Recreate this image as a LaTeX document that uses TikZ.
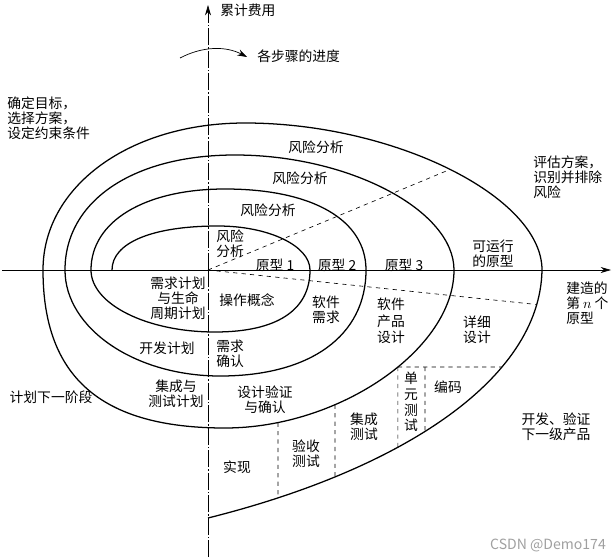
\documentclass[tikz,border=0pt]{standalone}
\usepackage{fontspec}
\setmainfont{Noto Sans CJK SC}
\usepackage{xcolor}
\usepackage{tikz}
\usetikzlibrary{arrows.meta, intersections}
\definecolor{markgray}{HTML}{A0A0A0}

\begin{document}
\begin{tikzpicture}[x=0.025cm, y=-0.025cm,
  lbl/.style={font=\fontsize{9.8}{10.7}\selectfont, align=center, inner sep=0pt},
  loopline/.style={line width=0.9pt},
  axisline/.style={line width=0.5pt},
  sep/.style={dashed, line width=0.45pt},
]
  \useasboundingbox (0,0) rectangle (616,559);

  % axes
  \coordinate (O) at (208,270);
  \coordinate (xstart) at (2,270);
  \coordinate (xend) at (611,270);
  \coordinate (ystart) at (208,557);
  \coordinate (yend) at (208,5);
  \draw[axisline, -{Stealth[length=2.6mm, width=1.5mm]}] (xstart) -- (xend);
  \draw[axisline, dash pattern={on 12pt off 1.5pt on 1pt off 1.5pt}] (ystart) -- (O);
  \draw[axisline, dash pattern={on 12pt off 1.5pt on 1pt off 1.5pt}, -{Stealth[length=2.6mm, width=1.5mm]}] (O) -- (yend);

  % the spiral, quarter by quarter
  \draw[loopline] (112,270)
    .. controls (112,242.7) and (152.3,226) .. (218,226)
    .. controls (268.6,226) and (310,245.8) .. (310,270)
    .. controls (310,310.3) and (276.8,332) .. (215,332)
    .. controls (146.8,332) and (91,304.1) .. (91,270)
    .. controls (91,221.4) and (144.6,189) .. (225,189)
    .. controls (312.4,189) and (366,219.8) .. (366,270)
    .. controls (366,335.7) and (310.5,376) .. (220,376)
    .. controls (134.8,376) and (65,328.3) .. (65,270)
    .. controls (65,201) and (133,155) .. (235,155)
    .. controls (348.9,155) and (454,210.2) .. (454,270)
    .. controls (454,349) and (339.5,428) .. (225,428)
    .. controls (101.2,428) and (43,377.4) .. (43,270)
    .. controls (43,186.2) and (129.9,123) .. (245,123)
    .. controls (393.5,123) and (542,196.5) .. (542,270)
    .. controls (540,380) and (400,470) .. (208,518);

  % named copies of the quarters that the dashed lines meet
  \path[name path=turnthree] (454,270) .. controls (454,349) and (339.5,428) .. (225,428);
  \path[name path=toprisk] (245,123) .. controls (393.5,123) and (542,196.5) .. (542,270);
  \path[name path=lastturn] (542,270) .. controls (540,380) and (400,470) .. (208,518);

  \path[name path=riskray] (O) -- (480,157);
  \path[name path=buildray] (O) -- (570,308);
  \path[name path=codeline] (300,367) -- (560,367);
  \path[name path=accline] (278,300) -- (278,559);
  \path[name path=intline] (335,300) -- (335,559);
  \path[name path=unitline] (425,367) -- (425,559);

  \path[name intersections={of=toprisk and riskray, by=riskend}];
  \path[name intersections={of=lastturn and buildray, by=buildend}];
  \path[name intersections={of=turnthree and codeline, by=codeleft}];
  \path[name intersections={of=lastturn and codeline, by=coderight}];
  \path[name intersections={of=turnthree and accline, by=acctop}];
  \path[name intersections={of=lastturn and accline, by=accbot}];
  \path[name intersections={of=turnthree and intline, by=inttop}];
  \path[name intersections={of=lastturn and intline, by=intbot}];
  \path[name intersections={of=lastturn and unitline, by=unitbot}];
  \path[name path=unitleft] (codeleft) -- ++(0,200);
  \path[name intersections={of=lastturn and unitleft, by=unitleftbot}];

  % dashed dividers
  \draw[sep] (O) -- (riskend);
  \draw[sep] (O) -- (buildend);
  \draw[sep] (codeleft) -- (coderight);
  \draw[sep] (codeleft) -- (unitleftbot);
  \draw[sep] (425,367) -- (unitbot);
  \draw[sep] (inttop) -- (intbot);
  \draw[sep] (acctop) -- (accbot);

  % progress arrow
  \coordinate (progA) at (180,58);
  \coordinate (progB) at (247,57);
  \draw[axisline, -{Stealth[length=2.4mm, width=1.6mm]}] (progA) .. controls (203,46) and (226,46) .. (progB);

  % texts
  \node[lbl, anchor=west] (cost) at (220,10) {累计费用};
  \node[lbl, anchor=west] (prog) at (257,56) {各步骤的进度};
  \node[lbl, anchor=west, align=left] (goal) at (7,118) {确定目标，\\选择方案，\\设定约束条件};
  \node[lbl, anchor=west, align=left] (eval) at (533,177) {评估方案，\\识别并排除\\风险};
  \node[lbl] (runproto) at (493,254) {可运行\\的原型};
  \node[lbl] (proto1) at (275,265) {原型 1};
  \node[lbl] (proto2) at (337,265) {原型 2};
  \node[lbl] (proto3) at (404,265) {原型 3};
  \node[lbl, anchor=west, align=left] (risk0) at (216,244) {风险\\分析};
  \node[lbl] (risk1) at (268,210) {风险分析};
  \node[lbl] (risk2) at (300,178) {风险分析};
  \node[lbl] (risk3) at (316,147) {风险分析};
  \node[lbl] (reqplan) at (178,298) {需求计划\\与生命\\周期计划};
  \node[lbl] (opconcept) at (247,300) {操作概念};
  \node[lbl] (devplan) at (167,348) {开发计划};
  \node[lbl, anchor=west, align=left] (reqcheck) at (216,354) {需求\\确认};
  \node[lbl] (itplan) at (176,394) {集成与\\测试计划};
  \node[lbl] (designcheck) at (265,400) {设计验证\\与确认};
  \node[lbl] (nextplan) at (51,397) {计划下一阶段};
  \node[lbl] (impl) at (237,467) {实现};
  \node[lbl] (acctest) at (306,454) {验收\\测试};
  \node[lbl] (inttest) at (364,427) {集成\\测试};
  \node[lbl, font=\fontsize{9.8}{11.1}\selectfont] (unittest) at (411,402) {单\\元\\测\\试};
  \node[lbl] (coding) at (448,387) {编码};
  \node[lbl] (detail) at (477,330) {详细\\设计};
  \node[lbl, font=\fontsize{9.8}{11.7}\selectfont] (proddesign) at (391,321) {软件\\产品\\设计};
  \node[lbl] (swreq) at (326,310) {软件\\需求};
  \node[lbl, anchor=west, align=left] (nthproto) at (566,303) {建造的\\第 $n$ 个\\原型};
  \node[lbl] (devnext) at (556,427) {开发、验证\\下一级产品};
  \node[lbl, text=markgray, font=\fontsize{10}{12}\selectfont] (mark) at (548,545) {CSDN @Demo174};
\end{tikzpicture}
\end{document}
